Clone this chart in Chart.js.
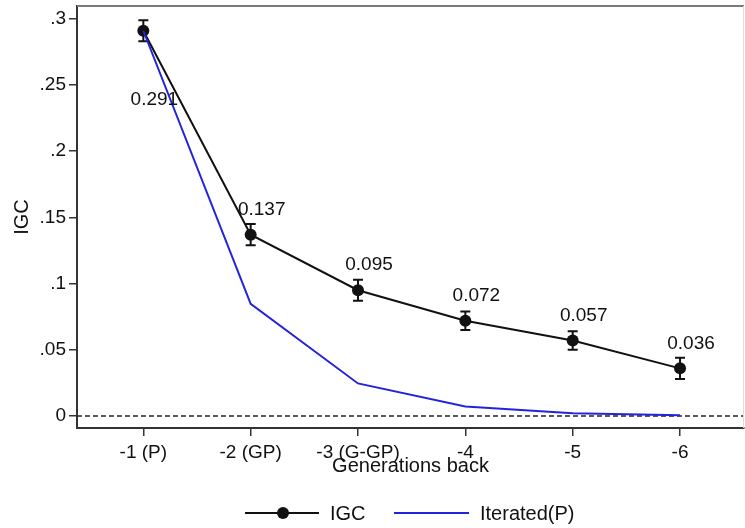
<!DOCTYPE html>
<html>
<head>
<meta charset="utf-8">
<script src="https://cdn.jsdelivr.net/npm/chart.js@4.4.0/dist/chart.umd.min.js"></script>
<style>
  html, body { margin: 0; padding: 0; background: #fff; }
  #wrap { width: 745px; height: 528px; }
</style>
</head>
<body>
<div id="wrap"><canvas id="igcChart" width="745" height="528"></canvas></div>
<script>
// data
const categories = ['-1 (P)', '-2 (GP)', '-3 (G-GP)', '-4', '-5', '-6'];
const gens = [1, 2, 3, 4, 5, 6];
const igc = [0.291, 0.137, 0.095, 0.072, 0.057, 0.036];
const igcLow = [0.283, 0.129, 0.087, 0.065, 0.050, 0.028];
const igcHigh = [0.299, 0.145, 0.103, 0.079, 0.064, 0.044];
const iterated = [0.291, 0.0847, 0.0246, 0.0072, 0.0021, 0.0006];
const yTicks = [0, 0.05, 0.1, 0.15, 0.2, 0.25, 0.3];
const yTickLabels = ['0', '.05', '.1', '.15', '.2', '.25', '.3'];

const FONT = "'Liberation Sans', Arial, sans-serif";
const INK = '#111';
const BLUE = '#2323dd';

function noPad(s) {
  s.paddingLeft = 0; s.paddingRight = 0; s.paddingTop = 0; s.paddingBottom = 0;
}

// error bars, zero line, frame, value labels, legend
const extras = {
  id: 'extras',
  beforeDatasetsDraw(chart) {
    const { ctx, chartArea: a, scales: { x, y } } = chart;
    ctx.save();
    // dashed zero line
    ctx.strokeStyle = '#222';
    ctx.lineWidth = 1.5;
    ctx.setLineDash([5, 3]);
    ctx.beginPath();
    ctx.moveTo(a.left, y.getPixelForValue(0));
    ctx.lineTo(a.right, y.getPixelForValue(0));
    ctx.stroke();
    ctx.setLineDash([]);
    // top / right frame
    ctx.strokeStyle = '#7a7a7a';
    ctx.lineWidth = 2;
    ctx.beginPath();
    ctx.moveTo(a.left, a.top);
    ctx.lineTo(a.right, a.top);
    ctx.stroke();
    ctx.strokeStyle = '#ddd';
    ctx.lineWidth = 1;
    ctx.beginPath();
    ctx.moveTo(a.right - 0.5, a.top);
    ctx.lineTo(a.right - 0.5, a.bottom);
    ctx.stroke();
    // error bars
    ctx.strokeStyle = INK;
    ctx.lineWidth = 2;
    gens.forEach((g, i) => {
      const px = x.getPixelForValue(g);
      const lo = y.getPixelForValue(igcLow[i]);
      const hi = y.getPixelForValue(igcHigh[i]);
      ctx.beginPath();
      ctx.moveTo(px, lo); ctx.lineTo(px, hi);
      ctx.moveTo(px - 5, lo); ctx.lineTo(px + 5, lo);
      ctx.moveTo(px - 5, hi); ctx.lineTo(px + 5, hi);
      ctx.stroke();
    });
    ctx.restore();
  },
  afterDatasetsDraw(chart) {
    const { ctx, scales: { x, y } } = chart;
    ctx.save();
    ctx.font = '19px ' + FONT;
    ctx.fillStyle = INK;
    ctx.textAlign = 'center';
    ctx.textBaseline = 'middle';
    gens.forEach((g, i) => {
      const px = x.getPixelForValue(g);
      const py = y.getPixelForValue(igc[i]);
      const dy = i === 0 ? 69 : -25;
      ctx.fillText(igc[i].toFixed(3), px + 11, py + dy);
    });
    ctx.restore();
  },
  afterDraw(chart) {
    const { ctx } = chart;
    const ly = 513;
    ctx.save();
    ctx.lineWidth = 2;
    ctx.strokeStyle = INK;
    ctx.beginPath(); ctx.moveTo(245, ly); ctx.lineTo(319, ly); ctx.stroke();
    ctx.fillStyle = INK;
    ctx.beginPath(); ctx.arc(283, ly, 6, 0, Math.PI * 2); ctx.fill();
    ctx.strokeStyle = BLUE;
    ctx.beginPath(); ctx.moveTo(394, ly); ctx.lineTo(469, ly); ctx.stroke();
    ctx.font = '20px ' + FONT;
    ctx.textAlign = 'left';
    ctx.textBaseline = 'middle';
    ctx.fillText('IGC', 330, ly + 1);
    ctx.fillText('Iterated(P)', 480, ly + 1);
    ctx.restore();
  }
};

new Chart(document.getElementById('igcChart'), {
  type: 'line',
  data: {
    datasets: [{
      label: 'IGC',
      data: gens.map((g, i) => ({ x: g, y: igc[i] })),
      borderColor: INK,
      backgroundColor: INK,
      borderWidth: 2,
      pointRadius: 6,
      pointBackgroundColor: INK,
      pointBorderWidth: 0,
      tension: 0,
      order: 2
    }, {
      label: 'Iterated(P)',
      data: gens.map((g, i) => ({ x: g, y: iterated[i] })),
      borderColor: BLUE,
      borderWidth: 2,
      pointRadius: 0,
      tension: 0,
      order: 1
    }]
  },
  options: {
    responsive: false,
    animation: false,
    layout: { autoPadding: false, padding: { top: 6, right: 1, left: 0, bottom: 0 } },
    plugins: { legend: { display: false }, tooltip: { enabled: false } },
    scales: {
      x: {
        type: 'linear',
        min: 0.382,
        max: 6.596,
        afterBuildTicks: s => { s.ticks = gens.map(v => ({ value: v })); },
        afterFit: s => { s.height = 100; noPad(s); },
        ticks: {
          callback: v => categories[gens.indexOf(v)],
          font: { family: FONT, size: 19 },
          color: INK,
          padding: 5,
          maxRotation: 0,
          autoSkip: false
        },
        grid: { drawOnChartArea: false, drawTicks: true, tickLength: 8, color: '#333', lineWidth: 1.5 },
        border: { color: '#333', width: 2 },
        title: {
          display: true,
          text: 'Generations back',
          font: { family: FONT, size: 20 },
          color: INK,
          padding: { top: 0, bottom: 50 }
        }
      },
      y: {
        min: -0.00906,
        max: 0.3097,
        afterBuildTicks: s => { s.ticks = yTicks.map(v => ({ value: v })); },
        afterFit: s => { s.width = 77; noPad(s); },
        ticks: {
          callback: v => yTickLabels[yTicks.indexOf(v)],
          font: { family: FONT, size: 19 },
          color: INK,
          padding: 3
        },
        grid: { drawOnChartArea: false, drawTicks: true, tickLength: 8, color: '#333', lineWidth: 1.5 },
        border: { color: '#333', width: 2 },
        title: {
          display: true,
          text: 'IGC',
          font: { family: FONT, size: 20 },
          color: INK,
          padding: { top: 10, bottom: 0 }
        }
      }
    }
  },
  plugins: [extras]
});
</script>
</body>
</html>
